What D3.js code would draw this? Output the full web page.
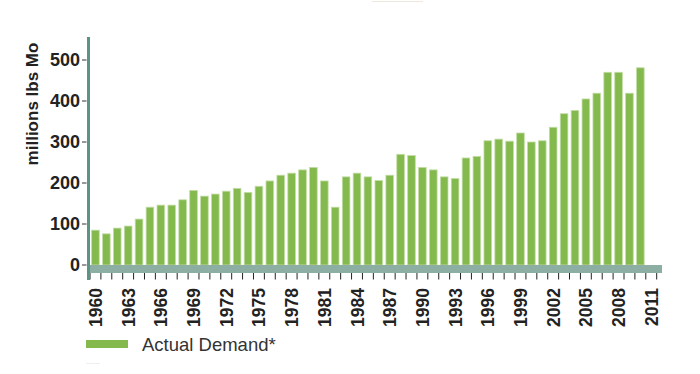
<!DOCTYPE html>
<html>
<head>
<meta charset="utf-8">
<script src="https://cdn.jsdelivr.net/npm/d3@7"></script>
<style>
  body { margin: 0; background: #fff; }
  svg { display: block; font-family: "Liberation Sans", Arial, sans-serif; }
</style>
</head>
<body>
<div id="chart"></div>
<script>
// years shown on the axis (2011 has a slot but no bar)
const years = d3.range(1960, 2012);
const tickYears = [1960, 1963, 1966, 1969, 1972, 1975, 1978, 1981, 1984, 1987, 1990,
  1993, 1996, 1999, 2002, 2005, 2008, 2011];
const yTicks = [0, 100, 200, 300, 400, 500];

// actual demand, millions lbs Mo, 1960 - 2010
const demand = [85, 76, 90, 95, 112, 141, 146, 146, 159, 182,
  168, 173, 180, 187, 177, 192, 205, 219, 224, 232,
  238, 205, 141, 215, 224, 215, 206, 219, 270, 267,
  238, 232, 215, 211, 261, 265, 303, 307, 302, 322,
  300, 303, 336, 369, 377, 405, 419, 470, 470, 419,
  481];

const seriesName = "Actual Demand*";
const yTitle = "millions lbs Mo";

const data = demand.map((v, i) => ({ year: 1960 + i, value: v }));

const W = 700, H = 374;
const svg = d3.select("#chart").append("svg")
  .attr("width", W)
  .attr("height", H);

// scales
const x = d3.scaleBand()
  .domain(years)
  .range([90, 656.7])
  .paddingInner(0.3)
  .paddingOuter(0.15);

const y = d3.scaleLinear()
  .domain([0, 500])
  .range([265, 60]);

const slotStart = d => x(d) - x.step() * 0.15;

// bars
svg.append("g")
  .selectAll("rect")
  .data(data)
  .join("rect")
  .attr("x", d => x(d.year))
  .attr("y", d => y(d.value))
  .attr("width", x.bandwidth())
  .attr("height", d => y(0) - y(d.value))
  .attr("fill", "#84b94e")
  .attr("stroke", "#c2dea6")
  .attr("stroke-width", 0.8);

// base band
svg.append("rect")
  .attr("x", 88)
  .attr("y", y(0))
  .attr("width", 662 - 88)
  .attr("height", 8)
  .attr("fill", "#8daea3");

// x ticks at slot boundaries
const xTickPos = years.map(slotStart).concat([x.range()[1]]);
svg.append("g")
  .selectAll("line")
  .data(xTickPos)
  .join("line")
  .attr("x1", d => d)
  .attr("x2", d => d)
  .attr("y1", 273)
  .attr("y2", 279.5)
  .attr("stroke", "#222")
  .attr("stroke-width", 1);

// x labels
svg.append("g")
  .selectAll("text")
  .data(tickYears)
  .join("text")
  .attr("transform", d => `translate(${x(d) + x.bandwidth() / 2 + 6.5},288) rotate(-90)`)
  .attr("text-anchor", "end")
  .attr("font-size", 17.5)
  .attr("font-weight", "bold")
  .attr("fill", "#222")
  .text(d => d);

// y axis line
svg.append("line")
  .attr("x1", 88.5).attr("x2", 88.5)
  .attr("y1", 37).attr("y2", 280)
  .attr("stroke", "#5b9484")
  .attr("stroke-width", 3);

// y ticks + labels
const yg = svg.append("g")
  .selectAll("g")
  .data(yTicks)
  .join("g")
  .attr("transform", d => `translate(0,${y(d)})`);
yg.append("line")
  .attr("x1", 82).attr("x2", 86.5)
  .attr("stroke", "#333")
  .attr("stroke-width", 1);
yg.append("text")
  .attr("x", 80)
  .attr("dy", "0.36em")
  .attr("text-anchor", "end")
  .attr("font-size", 18)
  .attr("font-weight", "bold")
  .attr("fill", "#222")
  .text(d => d);

// y title
svg.append("text")
  .attr("transform", "translate(38,104) rotate(-90)")
  .attr("text-anchor", "middle")
  .attr("font-size", 17)
  .attr("font-weight", "bold")
  .attr("fill", "#222")
  .text(yTitle);

// legend
svg.append("rect")
  .attr("x", 86).attr("y", 340)
  .attr("width", 42).attr("height", 8)
  .attr("fill", "#84b94e");
svg.append("text")
  .attr("x", 142).attr("y", 351)
  .attr("font-size", 18.5)
  .attr("fill", "#333")
  .text(seriesName);

// faint marks seen in the original
svg.append("line")
  .attr("x1", 372).attr("x2", 423).attr("y1", 1.5).attr("y2", 1.5)
  .attr("stroke", "#f0e8dc");
svg.append("line")
  .attr("x1", 86).attr("x2", 100).attr("y1", 363.5).attr("y2", 363.5)
  .attr("stroke", "#eee");
</script>
</body>
</html>
